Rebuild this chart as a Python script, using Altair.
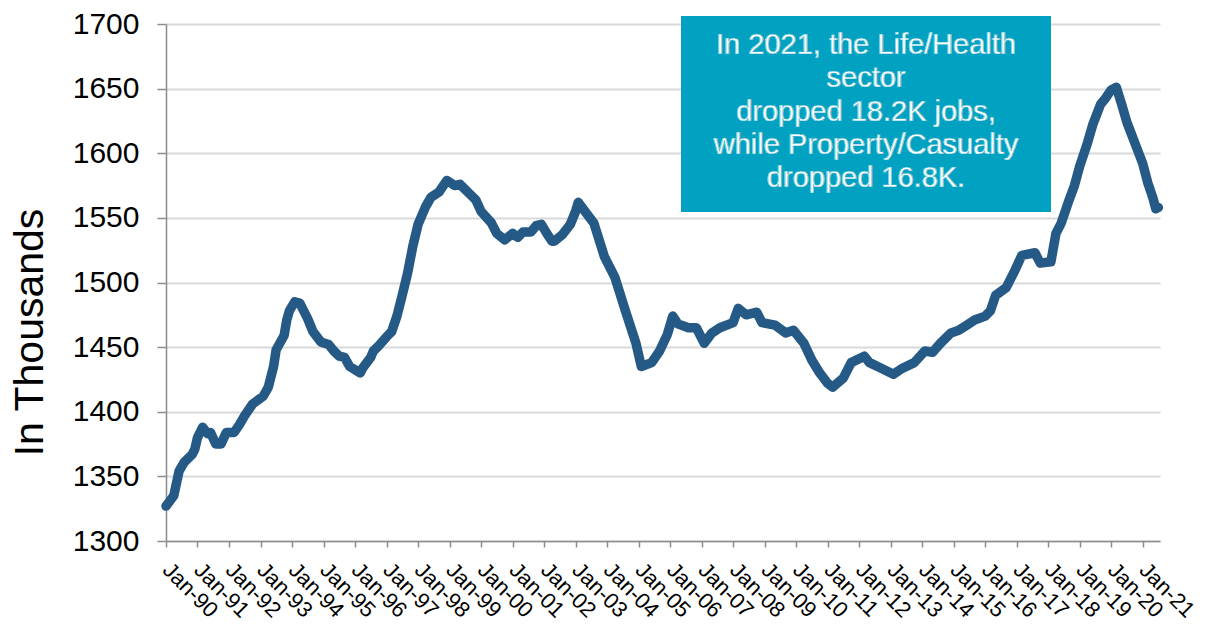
import altair as alt
import pandas as pd

months = [
    "1990-01", "1990-04", "1990-06", "1990-08", "1990-11", "1990-12",
    "1991-01", "1991-03", "1991-05", "1991-06", "1991-08", "1991-10", "1991-12",
    "1992-03", "1992-05", "1992-07", "1992-10",
    "1993-02", "1993-04", "1993-06", "1993-07", "1993-10", "1993-11", "1993-12",
    "1994-02", "1994-04", "1994-07", "1994-09", "1994-12",
    "1995-03", "1995-05", "1995-07", "1995-09", "1995-11",
    "1996-03", "1996-04", "1996-07", "1996-08", "1996-10",
    "1997-01", "1997-03", "1997-05", "1997-07", "1997-09", "1997-11",
    "1998-01", "1998-04", "1998-06", "1998-09", "1998-12",
    "1999-03", "1999-05", "1999-08", "1999-11",
    "2000-01", "2000-05", "2000-07", "2000-10",
    "2001-01", "2001-03", "2001-05", "2001-08", "2001-10", "2001-12",
    "2002-02", "2002-04", "2002-05", "2002-08", "2002-11",
    "2003-01", "2003-02", "2003-05", "2003-08", "2003-10", "2003-12",
    "2004-04", "2004-08", "2004-12",
    "2005-02", "2005-06", "2005-09", "2005-12",
    "2006-02", "2006-04", "2006-08", "2006-11",
    "2007-02", "2007-05", "2007-08",
    "2008-01", "2008-03", "2008-06", "2008-10", "2008-12",
    "2009-05", "2009-09", "2009-12",
    "2010-04", "2010-07", "2010-10",
    "2011-01", "2011-03", "2011-07", "2011-10",
    "2012-03", "2012-05", "2012-09",
    "2013-02", "2013-05", "2013-10",
    "2014-02", "2014-05", "2014-08", "2014-12",
    "2015-03", "2015-06", "2015-09",
    "2016-01", "2016-03", "2016-05", "2016-09", "2016-12",
    "2017-03", "2017-08", "2017-10",
    "2018-02", "2018-04", "2018-06", "2018-09", "2018-11",
    "2019-01", "2019-04", "2019-06", "2019-09", "2019-11",
    "2020-01", "2020-03", "2020-05", "2020-07", "2020-10",
    "2021-01", "2021-03", "2021-05", "2021-06", "2021-07",
]

jobs = [
    1327, 1335, 1354, 1361, 1367, 1371,
    1380, 1388, 1383, 1384, 1375, 1375, 1384,
    1384, 1390, 1397, 1406,
    1412, 1419, 1435, 1448, 1459, 1471, 1478,
    1485, 1484, 1472, 1462, 1454,
    1452, 1447, 1443, 1442, 1435,
    1430, 1434, 1442, 1447, 1451,
    1458, 1462, 1474, 1490, 1507, 1528,
    1545, 1559, 1566, 1570, 1579,
    1575, 1576, 1570, 1564,
    1555, 1546, 1538, 1533,
    1538, 1535, 1539, 1539, 1544, 1545,
    1538, 1532, 1532, 1537, 1545,
    1555, 1562, 1554, 1546, 1533, 1520,
    1504, 1478, 1453,
    1435, 1438, 1447, 1460,
    1474, 1468, 1465, 1465,
    1453, 1461, 1465,
    1469, 1480, 1475, 1477, 1469,
    1467, 1461, 1463,
    1453, 1440, 1430,
    1422, 1419, 1426, 1438,
    1443, 1438, 1434,
    1429, 1433, 1438,
    1447, 1446, 1453, 1461,
    1463, 1467, 1471,
    1474, 1478, 1490, 1496, 1508,
    1521, 1523, 1515,
    1516, 1538, 1546, 1564, 1575,
    1590, 1608, 1622, 1638, 1643,
    1649, 1651, 1638, 1624, 1608,
    1592, 1577, 1565, 1557, 1558,
]

tick_years = list(range(1990, 2022))
y_ticks = list(range(1300, 1701, 50))

note_lines = [
    "In 2021, the Life/Health",
    "sector",
    "dropped 18.2K jobs,",
    "while Property/Casualty",
    "dropped 16.8K.",
]

df = pd.DataFrame({"date": pd.to_datetime(months), "jobs": jobs})

FONT = "Liberation Sans"
W, H = 994, 517
BOX = "#00A1C1"

x_enc = alt.X(
    "date:T",
    scale=alt.Scale(domain=[alt.DateTime(year=1990, month=1, date=1),
                            alt.DateTime(year=2021, month=7, date=20)]),
    axis=alt.Axis(
        values=[alt.DateTime(year=y, month=1, date=1) for y in tick_years],
        format="%b-%y",
        labelAngle=45,
        labelAlign="left",
        labelBaseline="middle",
        labelFontSize=22,
        labelColor="#000000",
        labelPadding=19,
        labelOverlap=False,
        labelFlush=False,
        grid=False,
        domainColor="#8C8C8C",
        domainWidth=1.5,
        tickColor="#8C8C8C",
        tickSize=6,
        tickWidth=1.5,
        title=None,
    ),
)

y_enc = alt.Y(
    "jobs:Q",
    scale=alt.Scale(domain=[1300, 1700], nice=False, zero=False),
    axis=alt.Axis(
        values=y_ticks,
        format="d",
        labelFontSize=30,
        labelColor="#000000",
        labelPadding=18,
        tickSize=9,
        tickColor="#8C8C8C",
        tickWidth=1.5,
        domainColor="#8C8C8C",
        domainWidth=1.5,
        gridColor="#D9D9D9",
        gridWidth=2,
        title="In Thousands",
        titleFontSize=41,
        titleFontWeight="normal",
        titleColor="#000000",
        titleX=-136,
        titleY=308,
        titleAngle=270,
        titleAlign="center",
        titleBaseline="middle",
    ),
)

line = alt.Chart(df).mark_line(
    color="#255A87", strokeWidth=9.5, strokeJoin="round", strokeCap="round"
).encode(x=x_enc, y=y_enc)

box = alt.Chart(df).mark_rect(color=BOX).encode(
    x=alt.value(515), x2=alt.value(885), y=alt.value(-8), y2=alt.value(188)
)

note = alt.Chart(df).mark_text(
    text=note_lines,
    font=FONT,
    fontSize=29,
    fontWeight="normal",
    fill="#FFFFFF",
    stroke=BOX,
    strokeWidth=0.35,
    align="center",
    baseline="middle",
    lineHeight=33.3,
).encode(x=alt.value(700), y=alt.value(21))

chart = alt.layer(line, box, note).properties(
    width=W,
    height=H,
    autosize=alt.AutoSizeParams(type="none"),
    padding={"left": 158, "top": 16, "right": 40, "bottom": 80},
).configure_axis(
    labelFont=FONT, titleFont=FONT
).configure_view(stroke=None)

chart.save("out.html", embed_options={"renderer": "svg", "actions": False})
